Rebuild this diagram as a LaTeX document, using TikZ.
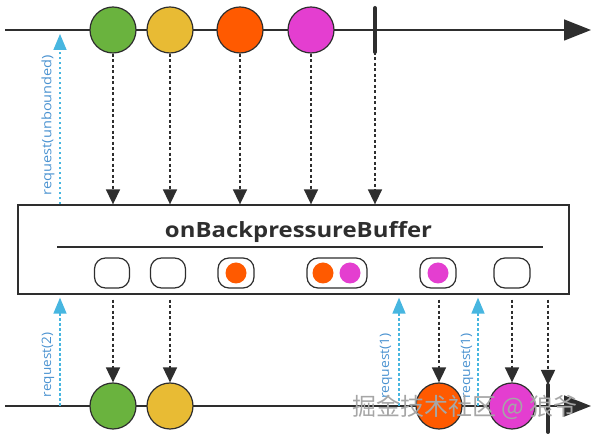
\documentclass[tikz,border=0pt]{standalone}
\usepackage{fontspec}
\setmainfont{Open Sans}
\newfontfamily\cjk{Noto Sans CJK SC}
\usetikzlibrary{arrows.meta}
\definecolor{cgreen}{HTML}{6AB33E}
\definecolor{cyellow}{HTML}{E8BB34}
\definecolor{corange}{HTML}{FF5A00}
\definecolor{cmagenta}{HTML}{E43ED0}
\definecolor{cblue}{HTML}{47B6E0}
\definecolor{clabel}{HTML}{4A92D0}
\definecolor{cdark}{HTML}{2E2E2E}
\tikzset{
  marble/.style={circle, draw=cdark, line width=1.2pt, minimum size=46pt, inner sep=0pt},
  timeline/.style={line width=1.5pt, draw=cdark, -{Triangle[length=27pt,width=21pt]}},
  flow/.style={line width=1.6pt, draw=cdark, dash pattern=on 3pt off 2.5pt, -{Triangle[length=15pt,width=14pt]}},
  req/.style={line width=1.6pt, draw=cblue, dash pattern=on 2.5pt off 2.5pt, -{Triangle[length=16pt,width=13pt,fill=cblue]}},
  slot/.style={draw=cdark, line width=1.2pt, rounded corners=11pt, minimum height=30pt, inner sep=0pt, fill=white},
  dotm/.style={circle, minimum size=21pt, inner sep=0pt},
  term/.style={line width=4pt, draw=cdark, line cap=round},
  reqlabel/.style={rotate=90, text=clabel, font=\fontsize{13}{15}\selectfont, inner sep=0pt},
}
\begin{document}
\begin{tikzpicture}[x=1pt,y=-1pt]
\useasboundingbox (0,0) rectangle (595,435);
% top timeline
\coordinate (tl0) at (5,30);
\coordinate (tl1) at (591,30);
\draw[timeline] (tl0) -- (tl1);
\node[marble, fill=cgreen] (t1) at (113,30) {};
\node[marble, fill=cyellow] (t2) at (170,30) {};
\node[marble, fill=corange] (t3) at (240,30) {};
\node[marble, fill=cmagenta] (t4) at (311,30) {};
\coordinate (tt) at (375,8);
\coordinate (tb) at (375,52);
\draw[term] (tt) -- (tb);
% operator box
\node[draw=cdark, line width=1.3pt, minimum width=551pt, minimum height=89pt, inner sep=0pt] (box) at (293.5,249.5) {};
\node[font=\bfseries\fontsize{21}{24}\selectfont, text=cdark, inner sep=0pt] (title) at (298.5,232) {\resizebox{267pt}{\height}{onBackpressureBuffer}};
\coordinate (r0) at (57,247);
\coordinate (r1) at (543,247);
\draw[line width=1.2pt, cdark] (r0) -- (r1);
% buffer slots
\node[slot, minimum width=35pt] (s1) at (112,273) {};
\node[slot, minimum width=35pt] (s2) at (168,273) {};
\node[slot, minimum width=36pt] (s3) at (236,273) {};
\node[dotm, fill=corange] (s3a) at (s3) {};
\node[slot, minimum width=60pt] (s4) at (337,273) {};
\node[dotm, fill=corange] (s4a) at (323,273) {};
\node[dotm, fill=cmagenta] (s4b) at (350,273) {};
\node[slot, minimum width=36pt] (s5) at (438,273) {};
\node[dotm, fill=cmagenta] (s5a) at (s5) {};
\node[slot, minimum width=36pt] (s6) at (512,273) {};
% flows top -> box
\draw[flow] (t1.south) -- (t1.south |- box.north);
\draw[flow] (t2.south) -- (t2.south |- box.north);
\draw[flow] (t3.south) -- (t3.south |- box.north);
\draw[flow] (t4.south) -- (t4.south |- box.north);
\draw[flow] (tb) -- (tb |- box.north);
% bottom timeline
\coordinate (bl0) at (5,406);
\coordinate (bl1) at (591,406);
\draw[timeline] (bl0) -- (bl1);
\node[marble, fill=cgreen] (b1) at (113,406) {};
\node[marble, fill=cyellow] (b2) at (170,406) {};
\node[marble, fill=corange] (b3) at (439,406) {};
\node[marble, fill=cmagenta] (b4) at (512,406) {};
\coordinate (bt) at (548,385);
\coordinate (bb) at (548,432);
\draw[term] (bt) -- (bb);
% flows box -> bottom
\draw[flow] ([yshift=-5pt]b1.north |- box.south) -- (b1.north);
\draw[flow] ([yshift=-5pt]b2.north |- box.south) -- (b2.north);
\draw[flow] ([yshift=-5pt]b3.north |- box.south) -- (b3.north);
\draw[flow] ([yshift=-5pt]b4.north |- box.south) -- (b4.north);
\draw[flow] ([yshift=-5pt]bt |- box.south) -- (bt);
% requests
\coordinate (q0) at (60,34);
\draw[req] (q0 |- box.north) -- (q0);
\node[reqlabel] (l0) at (48,125) {\resizebox{140pt}{\height}{request(unbounded)}};
\coordinate (q1) at (60,406);
\draw[req] (q1) -- ([yshift=-3pt]q1 |- box.south);
\node[reqlabel] (l1) at (48,365) {\resizebox{64pt}{\height}{request(2)}};
\coordinate (q2) at (399,406);
\draw[req] (q2) -- ([yshift=-3pt]q2 |- box.south);
\node[reqlabel] (l2) at (386,366) {\resizebox{66pt}{\height}{request(1)}};
\coordinate (q3) at (478,406);
\draw[req] (q3) -- ([yshift=-3pt]q3 |- box.south);
\node[reqlabel] (l3) at (467,366) {\resizebox{66pt}{\height}{request(1)}};
% watermark
\node[font=\cjk\fontsize{24}{28}\selectfont, text=gray!70] (wm) at (465,407) {掘金技术社区 @ 狼爷};
\end{tikzpicture}
\end{document}
